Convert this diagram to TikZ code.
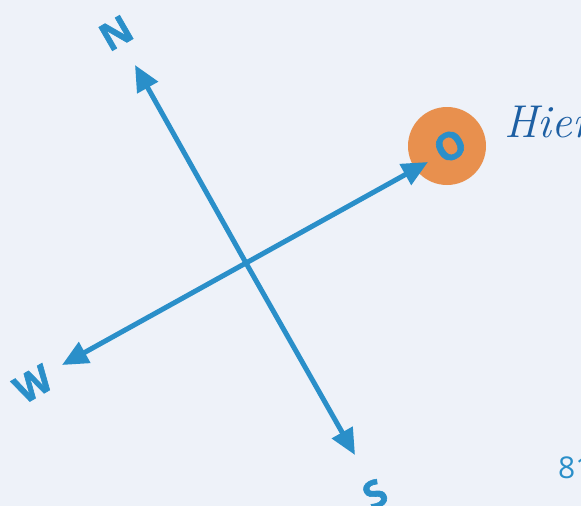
\documentclass[tikz,border=0pt]{standalone}
\usepackage{fontspec}
\usetikzlibrary{arrows.meta}
\newfontfamily\lblfont{Open Sans}[BoldFeatures={FakeBold=1.6}]
\definecolor{bgc}{HTML}{EEF2F9}
\definecolor{blu}{HTML}{2A8FC9}
\definecolor{org}{HTML}{E8904E}
\definecolor{dblu}{HTML}{1D5FA3}
\tikzset{
  dir/.style={draw=blu, line width=5pt, -{Triangle[length=26pt,width=23pt]}},
  lbl/.style={text=blu, font=\lblfont\bfseries\fontsize{38}{38}\selectfont, rotate=30, inner sep=0pt}
}
\begin{document}
\begin{tikzpicture}[x=1pt,y=-1pt]
\fill[bgc] (0,0) rectangle (581,506);
\useasboundingbox (0,0) rectangle (581,506);
\coordinate (c) at (246,263);
\coordinate (n) at (135,65);
\coordinate (s) at (355,455);
\coordinate (w) at (62,365);
\node[circle, fill=org, minimum size=78pt, inner sep=0pt] (o) at (447,146) {};
\coordinate (e) at (428,162);
\draw[dir] (c) -- (n);
\draw[dir] (c) -- (s);
\draw[dir] (c) -- (w);
\draw[dir] (c) -- (e);
\node[lbl] (ln) at (116,33) {N};
\node[lbl] (lw) at (33,384) {W};
\node[lbl] (ls) at (375,494) {S};
\node[lbl] (lo) at (450,146) {O};
\node[anchor=base west, text=dblu, font=\itshape\fontsize{46}{46}\selectfont, inner sep=0pt] (hier) at (504,137) {Hier};
\node[anchor=base west, text=blu, font=\lblfont\fontsize{30}{30}\selectfont, inner sep=0pt] (num) at (558,478) {81};
\end{tikzpicture}
\end{document}
